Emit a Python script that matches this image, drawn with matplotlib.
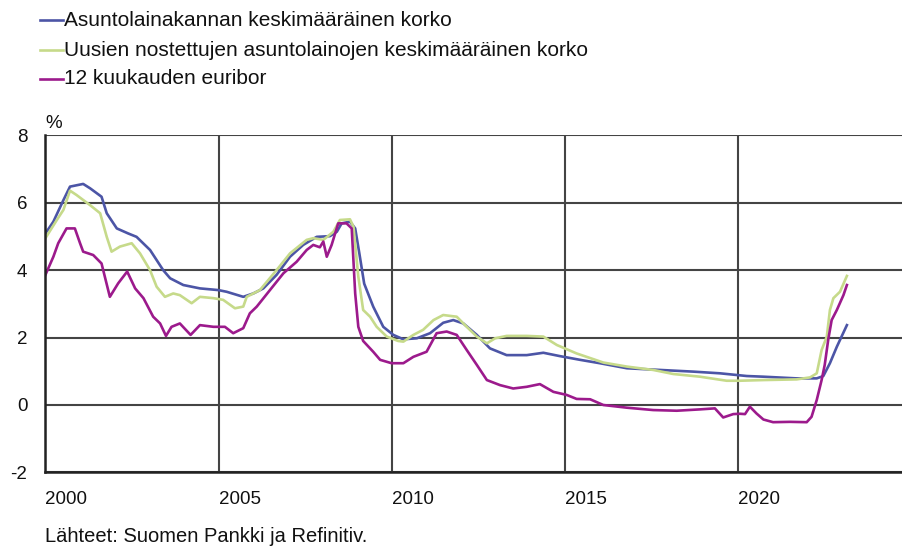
import matplotlib
matplotlib.use("Agg")
import matplotlib.pyplot as plt
from matplotlib.lines import Line2D

plt.rcParams["font.family"] = ["Liberation Sans", "DejaVu Sans"]
plt.rcParams["axes.unicode_minus"] = False

# Asuntolainakannan keskimääräinen korko (%)
stock_t = [2000.0, 2000.23, 2000.52, 2000.71, 2000.9, 2001.09, 2001.29, 2001.62, 2001.77,
           2002.06, 2002.39, 2002.63, 2003.02, 2003.40, 2003.6, 2003.98, 2004.46, 2004.99,
           2005.23, 2005.71, 2006.0, 2006.29, 2006.67, 2007.06, 2007.44, 2007.83, 2008.21,
           2008.41, 2008.55, 2008.79, 2008.94, 2009.06, 2009.2, 2009.46, 2009.75, 2010.04,
           2010.33, 2010.72, 2011.1, 2011.48, 2011.77, 2012.06, 2012.45, 2012.83, 2013.31,
           2013.89, 2014.37, 2014.85, 2015.43, 2016.0, 2016.78, 2017.74, 2018.7, 2019.47,
           2020.24, 2020.72, 2021.68, 2022.26, 2022.45, 2022.64, 2022.84, 2023.13]
stock_v = [5.09, 5.44, 6.08, 6.48, 6.52, 6.56, 6.43, 6.18, 5.69,
           5.24, 5.09, 4.99, 4.60, 4.00, 3.76, 3.56, 3.46, 3.41,
           3.36, 3.21, 3.31, 3.46, 3.86, 4.40, 4.75, 4.99, 5.01,
           5.14, 5.39, 5.44, 5.24, 4.50, 3.60, 2.92, 2.32, 2.08,
           1.95, 1.98, 2.13, 2.44, 2.52, 2.42, 2.08, 1.68, 1.48,
           1.48, 1.55, 1.45, 1.34, 1.24, 1.09, 1.04, 0.99, 0.94,
           0.86, 0.84, 0.79, 0.79, 0.86, 1.24, 1.73, 2.37]

# Uusien nostettujen asuntolainojen keskimääräinen korko (%)
new_t = [2000.0, 2000.33, 2000.52, 2000.71, 2000.9, 2001.29, 2001.58, 2001.77, 2001.91,
         2002.15, 2002.49, 2002.73, 2003.02, 2003.21, 2003.45, 2003.69, 2003.88, 2004.22,
         2004.46, 2004.85, 2005.13, 2005.47, 2005.71, 2005.81, 2006.19, 2006.67, 2007.06,
         2007.54, 2007.73, 2008.02, 2008.31, 2008.50, 2008.79, 2008.89, 2009.03, 2009.17,
         2009.37, 2009.56, 2009.85, 2010.18, 2010.33, 2010.62, 2010.9, 2011.2, 2011.48,
         2011.87, 2012.16, 2012.45, 2012.74, 2012.98, 2013.31, 2013.89, 2014.37, 2014.76,
         2015.33, 2016.1, 2016.78, 2017.54, 2018.12, 2018.89, 2019.66, 2020.04, 2020.72,
         2021.68, 2022.07, 2022.26, 2022.40, 2022.55, 2022.64, 2022.74, 2022.93, 2023.13]
new_v = [4.95, 5.49, 5.79, 6.36, 6.23, 5.93, 5.69, 4.99, 4.55,
         4.70, 4.80, 4.50, 4.00, 3.51, 3.21, 3.31, 3.26, 3.02,
         3.21, 3.17, 3.12, 2.87, 2.92, 3.21, 3.41, 4.00, 4.50,
         4.90, 4.95, 4.90, 5.14, 5.49, 5.51, 5.29, 3.81, 2.82,
         2.62, 2.32, 2.03, 1.90, 1.88, 2.08, 2.23, 2.52, 2.67,
         2.62, 2.32, 2.03, 1.83, 1.98, 2.05, 2.05, 2.03, 1.78,
         1.53, 1.26, 1.14, 1.04, 0.92, 0.84, 0.72, 0.72, 0.74,
         0.76, 0.82, 0.94, 1.63, 2.03, 2.82, 3.17, 3.36, 3.83]

# 12 kuukauden euribor (%)
euribor_t = [2000.0, 2000.23, 2000.37, 2000.61, 2000.85, 2001.0, 2001.09, 2001.38, 2001.62,
             2001.86, 2002.1, 2002.36, 2002.59, 2002.83, 2003.11, 2003.31, 2003.48, 2003.64,
             2003.88, 2004.19, 2004.46, 2004.85, 2005.18, 2005.42, 2005.71, 2005.9, 2006.1,
             2006.48, 2006.87, 2007.25, 2007.54, 2007.73, 2007.92, 2008.02, 2008.12, 2008.26,
             2008.45, 2008.69, 2008.84, 2008.94, 2009.03, 2009.17, 2009.46, 2009.66, 2009.99,
             2010.33, 2010.62, 2011.0, 2011.29, 2011.58, 2011.87, 2012.16, 2012.45, 2012.74,
             2013.12, 2013.5, 2013.89, 2014.27, 2014.66, 2015.04, 2015.33, 2015.72, 2016.1,
             2016.78, 2017.54, 2018.22, 2018.89, 2019.32, 2019.56, 2019.85, 2020.04, 2020.19,
             2020.33, 2020.52, 2020.72, 2021.0, 2021.49, 2021.97, 2022.11, 2022.26, 2022.40,
             2022.49, 2022.59, 2022.69, 2022.84, 2023.03, 2023.13]
euribor_v = [3.86, 4.40, 4.80, 5.24, 5.24, 4.80, 4.55, 4.45, 4.20,
             3.21, 3.61, 3.96, 3.46, 3.17, 2.62, 2.42, 2.05, 2.32,
             2.42, 2.08, 2.37, 2.32, 2.32, 2.13, 2.28, 2.72, 2.92,
             3.41, 3.91, 4.25, 4.60, 4.75, 4.68, 4.85, 4.40, 4.75,
             5.39, 5.39, 5.24, 3.31, 2.32, 1.90, 1.58, 1.34, 1.24,
             1.24, 1.43, 1.58, 2.13, 2.18, 2.08, 1.63, 1.19, 0.74,
             0.59, 0.49, 0.54, 0.62, 0.39, 0.30, 0.18, 0.17, 0.00,
             -0.08, -0.15, -0.17, -0.13, -0.10, -0.37, -0.27, -0.26, -0.27,
             -0.05, -0.25, -0.43, -0.51, -0.50, -0.51, -0.35, 0.15, 0.74,
             1.19, 1.93, 2.52, 2.82, 3.26, 3.56]

series = [
    ("Asuntolainakannan keskimääräinen korko", stock_t, stock_v, "#4c55a6"),
    ("Uusien nostettujen asuntolainojen keskimääräinen korko", new_t, new_v, "#c6da8a"),
    ("12 kuukauden euribor", euribor_t, euribor_v, "#9c1a8c"),
]

year_ticks = [2000, 2005, 2010, 2015, 2020]
y_ticks = [-2, 0, 2, 4, 6, 8]

W, H = 902, 546
fig = plt.figure(figsize=(W / 100, H / 100), dpi=100)
ax = fig.add_axes([45.4 / W, 1 - 472.4 / H, 1 - 45.4 / W, (472.4 - 135.4) / H])

for name, t, v, c in series:
    ax.plot(t, v, color=c, lw=1.9, solid_joinstyle="round")

ax.set_xlim(2000, 2024.72)
ax.set_ylim(-2, 8)
ax.set_xticks(year_ticks)
ax.set_yticks(y_ticks)
ax.set_xticklabels([str(y) for y in year_ticks], ha="left")
ax.tick_params(length=0, labelsize=13.5, colors="#111111")
ax.tick_params(axis="y", pad=13)
ax.tick_params(axis="x", pad=13.5)
ax.grid(True, color="#444444", lw=1.5)
ax.set_axisbelow(True)
for s in ["top", "right"]:
    ax.spines[s].set_visible(False)
for s in ["left", "bottom"]:
    ax.spines[s].set_linewidth(1.8)
    ax.spines[s].set_color("#222222")

fig.text(45 / W, 1 - 128 / H, "%", ha="left", va="baseline",
         fontsize=13.5, color="#111111")

# legend drawn by hand, stacked at the top
legend_y = [20, 50, 79]
for (name, t, v, c), yy in zip(series, legend_y):
    fy = 1 - yy / H
    fig.add_artist(Line2D([40 / W, 63 / W], [fy, fy], color=c, lw=1.9,
                          transform=fig.transFigure))
    fig.text(64 / W, fy, name, ha="left", va="center", fontsize=15, color="#111111")

fig.text(45 / W, 1 - 537 / H, "Lähteet: Suomen Pankki ja Refinitiv.", ha="left",
         va="center", fontsize=14.5, color="#111111")

fig.savefig("out.png", dpi=100)
